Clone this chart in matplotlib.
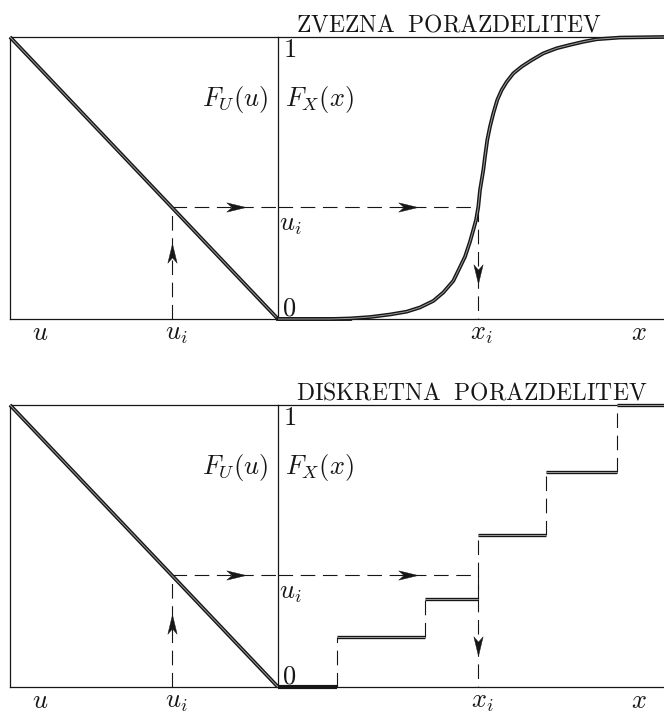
import numpy as np
import matplotlib
matplotlib.use('Agg')
import matplotlib.pyplot as plt
from matplotlib.path import Path

plt.rcParams['mathtext.fontset'] = 'cm'
plt.rcParams['lines.scale_dashes'] = False

# ---------------- data ----------------
titles = [r'$\mathrm{ZVEZNA\ \ PORAZDELITEV}$', r'$\mathrm{DISKRETNA\ \ PORAZDELITEV}$']
u_line = [0.0, 1.0]          # F_U(u) = u (uniform CDF), u axis runs leftwards
FU_line = [0.0, 1.0]
u_i = 0.396                  # sampled uniform value
x_i_cont = 5.17              # inverse of u_i for continuous CDF
x_i_disc = 5.18              # inverse of u_i for discrete CDF
X_MAX = 10.0

x_cont = [0.0, 1.347, 1.865, 2.383, 2.902, 3.334, 3.679, 4.023, 4.282, 4.541,
          4.715, 4.845, 4.974, 5.060, 5.130, 5.189, 5.233, 5.319, 5.363, 5.422,
          5.492, 5.578, 5.681, 5.795, 5.925, 6.096, 6.313, 6.572, 6.873, 7.220,
          7.565, 7.909, 8.256, 8.860, 10.0]
F_cont = [0.0, 0.0, 0.002, 0.007, 0.016, 0.026, 0.041, 0.064, 0.094, 0.135,
          0.184, 0.221, 0.274, 0.316, 0.351, 0.398, 0.457, 0.528, 0.576, 0.635,
          0.682, 0.729, 0.777, 0.812, 0.841, 0.871, 0.895, 0.918, 0.942, 0.960,
          0.972, 0.983, 0.992, 0.998, 1.0]

x_disc = [0.0, 1.53, 3.81, 5.18, 6.94, 8.78, 10.0]      # jump locations
F_disc = [0.0, 0.176, 0.312, 0.540, 0.762, 1.0]         # step heights

# ---------------- style ----------------
W, H = 664, 716
INK = '#161616'
FS = 19
FS_TITLE = 17
DASH = (10.5, 5.5)

fig = plt.figure(figsize=(W / 100, H / 100), dpi=100)


def arrow_path(angle_deg):
    v = np.array([[1.0, 0.0], [-1.0, 0.48], [-0.45, 0.0], [-1.0, -0.48], [1.0, 0.0]])
    a = np.deg2rad(angle_deg)
    R = np.array([[np.cos(a), -np.sin(a)], [np.sin(a), np.cos(a)]])
    v = v @ R.T
    codes = [Path.MOVETO, Path.LINETO, Path.LINETO, Path.LINETO, Path.CLOSEPOLY]
    return Path(v, codes)


def dline(ax, x, y, lw=2.7, inner=0.7):
    ax.plot(x, y, color=INK, lw=lw, solid_capstyle='butt', solid_joinstyle='round',
            clip_on=False, zorder=3)
    ax.plot(x, y, color='#9a9a9a', lw=inner, solid_capstyle='butt',
            solid_joinstyle='round', clip_on=False, zorder=4)


def dashed(ax, x, y):
    ax.plot(x, y, color=INK, lw=0.8, dashes=DASH, clip_on=False, zorder=2)


def arrow(ax, x, y, ang):
    ax.plot([x], [y], marker=arrow_path(ang), ms=14, color=INK, mec=INK, mew=0.3,
            clip_on=False, zorder=5)


def panel(top_px, k):
    bot_px = top_px + 282
    axL = fig.add_axes([10 / W, 1 - bot_px / H, 268 / W, 282 / H])
    axR = fig.add_axes([278 / W, 1 - bot_px / H, 386 / W, 282 / H])
    axL.set_xlim(1, 0)
    axL.set_ylim(0, 1)
    axR.set_xlim(0, X_MAX)
    axR.set_ylim(0, 1)
    for ax in (axL, axR):
        ax.set_xticks([])
        ax.set_yticks([])
        ax.patch.set_alpha(0)
        for s in ax.spines.values():
            s.set_linewidth(0.9)
            s.set_color(INK)
    axR.spines['right'].set_visible(False)
    axR.spines['left'].set_visible(False)

    # uniform CDF (mirrored)
    dline(axL, u_line, FU_line)
    # u_i guide
    dashed(axL, [u_i, u_i], [0, u_i])
    dashed(axL, [u_i, 0], [u_i, u_i])

    if k == 0:
        xi = x_i_cont
        dline(axR, x_cont, F_cont)
        axR.plot([0, x_cont[2]], [0, 0], color=INK, lw=2.7, clip_on=False, zorder=3)
    else:
        xi = x_i_disc
        for j, lev in enumerate(F_disc):
            if j == 0:
                axR.plot(x_disc[0:2], [lev, lev], color=INK, lw=3.0,
                         solid_capstyle='butt', clip_on=False, zorder=3)
            else:
                dline(axR, x_disc[j:j + 2], [lev, lev], lw=2.4)
                dashed(axR, [x_disc[j], x_disc[j]], [F_disc[j - 1], lev])
    dashed(axR, [0, xi], [u_i, u_i])
    dashed(axR, [xi, xi], [u_i, 0])

    # arrows
    arrow(axL, 0.155, u_i, 0)
    arrow(axL, u_i, 0.235 if k == 0 else 0.225, 90)
    arrow(axR, 3.37, u_i, 0)
    arrow(axR, xi, 0.16 if k == 0 else 0.145, -90)

    # text (pixel based offsets)
    def t(xp, yp, s, ha='left', fs=FS):
        fig.text(xp / W, 1 - yp / H, s, ha=ha, va='baseline', fontsize=fs, color=INK)

    t(296, top_px - 5, titles[k], fs=FS_TITLE)
    t(283, top_px + 20, r'$1$')
    t(282, bot_px - 3, r'$0$')
    t(268, top_px + 69, r'$F_U(u)$', ha='right')
    t(285, top_px + 69, r'$F_X(x)$')
    t(279, bot_px - 282 * u_i + 23, r'$u_i$')
    t(40, bot_px + 21, r'$u$', ha='center')
    xpu = 278 - 268 * u_i
    t(xpu + 4, bot_px + 21, r'$u_i$', ha='center')
    xpx = 278 + 386 * xi / X_MAX
    t(xpx + 4, bot_px + 21, r'$x_i$', ha='center')
    t(639, bot_px + 21, r'$x$', ha='center')


panel(37, 0)
panel(405, 1)

fig.savefig('out.png', dpi=100, facecolor='white')
